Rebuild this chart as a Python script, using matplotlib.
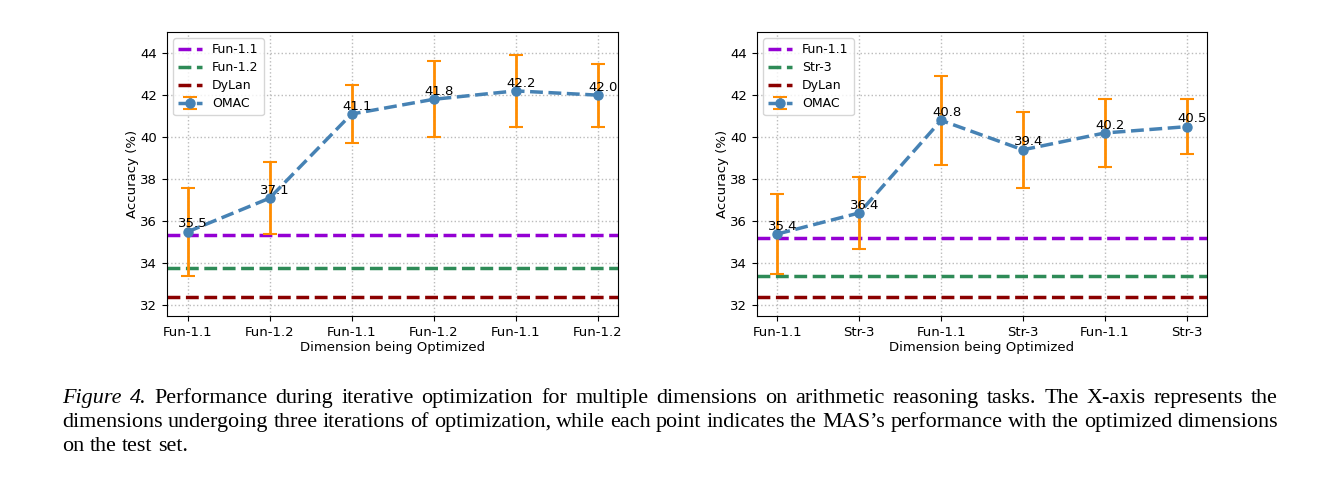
import matplotlib
matplotlib.use("Agg")
import matplotlib.pyplot as plt

# ---- data ----
left_ticks = ["Fun-1.1", "Fun-1.2", "Fun-1.1", "Fun-1.2", "Fun-1.1", "Fun-1.2"]
left_vals = [35.5, 37.1, 41.1, 41.8, 42.2, 42.0]
left_err = [2.1, 1.7, 1.4, 1.8, 1.7, 1.5]
left_base_names = ["Fun-1.1", "Fun-1.2", "DyLan"]
left_base_vals = [35.36, 33.77, 32.38]

right_ticks = ["Fun-1.1", "Str-3", "Fun-1.1", "Str-3", "Fun-1.1", "Str-3"]
right_vals = [35.4, 36.4, 40.8, 39.4, 40.2, 40.5]
right_err = [1.9, 1.7, 2.1, 1.8, 1.6, 1.3]
right_base_names = ["Fun-1.1", "Str-3", "DyLan"]
right_base_vals = [35.23, 33.39, 32.38]

base_colors = ["#9400D3", "#2E8B57", "#8B0000"]

caption_lines = [
    "Figure 4. Performance during iterative optimization for multiple dimensions on arithmetic reasoning tasks. The X-axis represents the",
    "dimensions undergoing three iterations of optimization, while each point indicates the MAS\u2019s performance with the optimized dimensions",
    "on the test set.",
]

W, H = 1338, 478
fig = plt.figure(figsize=(W / 100, H / 100), dpi=100)

def draw(ax, ticks, vals, err, base_names, base_vals):
    x = list(range(len(vals)))
    for name, v, c in zip(base_names, base_vals, base_colors):
        ax.axhline(v, color=c, linestyle="--", linewidth=2.5, label=name, zorder=2)
    ax.errorbar(x, vals, yerr=err, color="#4682B4", ecolor="darkorange",
                linestyle="--", linewidth=2.5, marker="o", markersize=6.5,
                elinewidth=2, capsize=5, capthick=1.5, label="OMAC", zorder=3)
    for xi, v in zip(x, vals):
        ax.annotate(f"{v:.1f}", (xi, v), textcoords="offset points",
                    xytext=(4, 1), ha="center", va="bottom", fontsize=9.5, zorder=4)
    ax.set_xticks(x)
    ax.set_xticklabels(ticks, fontsize=9.5)
    ax.set_yticks([32, 34, 36, 38, 40, 42, 44])
    ax.tick_params(axis="y", labelsize=9.5)
    ax.set_xlim(-0.25, len(vals) - 0.75)
    ax.set_ylim(31.5, 45)
    ax.grid(True, linestyle=":", color="#bbbbbb", linewidth=1)
    ax.set_axisbelow(True)
    ax.set_xlabel("Dimension being Optimized", fontsize=9.5, labelpad=2)
    ax.set_ylabel("Accuracy (%)", fontsize=9.5, labelpad=1)
    ax.legend(loc="upper left", fontsize=9, handlelength=1.9, labelspacing=0.4)

ax1 = fig.add_axes([167 / W, 1 - 316 / H, 451 / W, 284 / H])
draw(ax1, left_ticks, left_vals, left_err, left_base_names, left_base_vals)
ax2 = fig.add_axes([757 / W, 1 - 316 / H, 450 / W, 284 / H])
draw(ax2, right_ticks, right_vals, right_err, right_base_names, right_base_vals)

# ---- caption (justified) ----
serif = ["Liberation Serif", "DejaVu Serif"]
fs = 15.9
x0, x1 = 62, 1278
baselines = [403, 427, 451]
renderer = fig.canvas.get_renderer()

def word_width(w, italic=False):
    t = fig.text(0, 0, w, fontsize=fs, family=serif,
                 style="italic" if italic else "normal")
    wd = t.get_window_extent(renderer).width
    t.remove()
    return wd

space = word_width("a a") - word_width("aa")
for li, line in enumerate(caption_lines):
    yb = 1 - baselines[li] / H
    words = line.split(" ")
    styles = [False] * len(words)
    if li == 0:
        styles[0] = True
        styles[1] = True
    justify = li < len(caption_lines) - 1
    widths = [word_width(w, s) for w, s in zip(words, styles)]
    if justify:
        gap = (x1 - x0 - sum(widths)) / (len(words) - 1)
    else:
        gap = space
    x = x0
    for w, s, wd in zip(words, styles, widths):
        fig.text(x / W, yb, w, fontsize=fs, family=serif,
                 style="italic" if s else "normal", va="baseline")
        x += wd + gap

fig.savefig("out.png", dpi=100)
